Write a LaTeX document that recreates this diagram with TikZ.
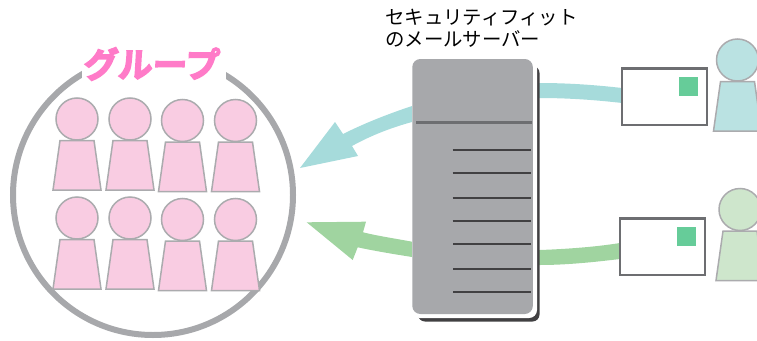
\documentclass[tikz,border=0pt]{standalone}
\usepackage{fontspec}
\newfontfamily\cjk{Noto Sans CJK JP}
\newfontfamily\cjkbold[FakeBold=4.5,FakeSlant=0.06]{Noto Sans CJK JP Bold}
\definecolor{pinkfill}{HTML}{F9CCE2}
\definecolor{persongray}{HTML}{ABABAE}
\definecolor{ringgray}{HTML}{A7A8AB}
\definecolor{servergray}{HTML}{A7A8AB}
\definecolor{divider}{HTML}{6D6E71}
\definecolor{serverline}{HTML}{414042}
\definecolor{teal}{HTML}{A6DBDB}
\definecolor{greenarrow}{HTML}{A0D4A0}
\definecolor{tealperson}{HTML}{BAE2E2}
\definecolor{greenperson}{HTML}{CEE6CC}
\definecolor{stamp}{HTML}{66CC99}
\definecolor{titlepink}{HTML}{FF7BC8}
\tikzset{
  personline/.style={draw=persongray,line width=1.5pt,line join=miter},
  head/.style={personline,circle,minimum size=42pt,inner sep=0pt,outer sep=0pt},
  envelope/.style={draw=divider,line width=2.7pt,fill=white,inner sep=0pt,outer sep=0pt,minimum width=85pt,minimum height=56.5pt},
  stampbox/.style={fill=stamp,inner sep=0pt,minimum size=19pt},
  srvline/.style={draw=serverline,line width=1.8pt},
}
% #1 name, #2 colour, #3 head x, #4 head y
\newcommand{\personfig}[4]{%
  \node[head,fill=#2] (#1h) at (#3,#4) {};
  \draw[personline,fill=#2] ($(#1h.center)+(-17,21.5)$) -- ($(#1h.center)+(17,21.5)$) -- ($(#1h.center)+(24,71)$) -- ($(#1h.center)+(-24,71)$) -- cycle;
}
\usetikzlibrary{calc}
\begin{document}
\begin{tikzpicture}[x=1pt,y=-1pt]
\useasboundingbox (0,0) rectangle (757,340);
% group ring
\node[draw=ringgray,line width=6pt,circle,inner sep=0pt,outer sep=0pt,minimum size=280pt] (ring) at (153,195) {};
\personfig{a}{pinkfill}{77}{119}
\personfig{b}{pinkfill}{130}{119}
\personfig{c}{pinkfill}{182.5}{120.5}
\personfig{d}{pinkfill}{235.5}{120.5}
\personfig{e}{pinkfill}{77}{218}
\personfig{f}{pinkfill}{130}{218}
\personfig{g}{pinkfill}{182.5}{219.5}
\personfig{h}{pinkfill}{235.5}{219.5}
\node[font=\cjkbold\fontsize{34.5}{36}\selectfont,text=titlepink,fill=white,inner sep=0pt,minimum width=144pt,minimum height=42pt] (grouptitle) at (154,64) {\hspace*{-6pt}グループ};
% arrows
\fill[teal] (622,88) .. controls (596,85) and (568,83) .. (540,83)
  .. controls (495,83) and (450,93) .. (412,106)
  .. controls (388,114) and (365,123) .. (343,134)
  -- (335,122) -- (300,168) -- (358,156) -- (352,146)
  .. controls (370,136) and (390,128) .. (412,122)
  .. controls (450,108) and (495,98) .. (540,98)
  .. controls (568,98) and (596,100) .. (622,103) -- cycle;
\fill[greenarrow] (620,243) .. controls (595,247) and (567,249) .. (540,250)
  .. controls (495,251) and (450,248) .. (412,241.7)
  .. controls (395,238.5) and (378,236) .. (363,232.3)
  -- (366,221.7) -- (306.7,222.3) -- (352.7,260) -- (357.7,247.3)
  .. controls (375,251) and (393,254) .. (412,257)
  .. controls (450,263) and (495,265) .. (540,265)
  .. controls (567,265) and (595,262) .. (620,259) -- cycle;
% server
\fill[serverline,rounded corners=7pt] (418,66) rectangle (539.5,321.5);
\fill[white,rounded corners=8pt] (412,59) rectangle (537,318);
\node[fill=servergray,rounded corners=8pt,inner sep=0pt,outer sep=0pt,minimum width=120.5pt,minimum height=255pt,anchor=north west] (server) at (412.3,59) {};
\draw[divider,line width=3pt] (416,122) -- (532,122);
\draw[srvline] (452.5,150) -- (530.5,150);
\draw[srvline] (452.5,173) -- (530.5,173);
\draw[srvline] (452.5,198) -- (530.5,198);
\draw[srvline] (452.5,221) -- (530.5,221);
\draw[srvline] (453,244) -- (531,244);
\draw[srvline] (453,269.3) -- (531,269.3);
\draw[srvline] (453,292) -- (531,292);
\node[font=\cjk\fontsize{19.4}{22}\selectfont,align=left,anchor=north west,inner sep=0pt,text=black] (serverlabel) at (385,9) {セキュリティフィット\\のメールサーバー};
% senders
\node[envelope,anchor=north west] (env1) at (622,68.5) {};
\node[stampbox,anchor=north west] (stamp1) at (679,77) {};
\node[envelope,anchor=north west] (env2) at (620,218.5) {};
\node[stampbox,anchor=north west] (stamp2) at (677,227) {};
\personfig{s}{tealperson}{737.5}{60}
\personfig{t}{greenperson}{740}{209.5}
\end{tikzpicture}
\end{document}
